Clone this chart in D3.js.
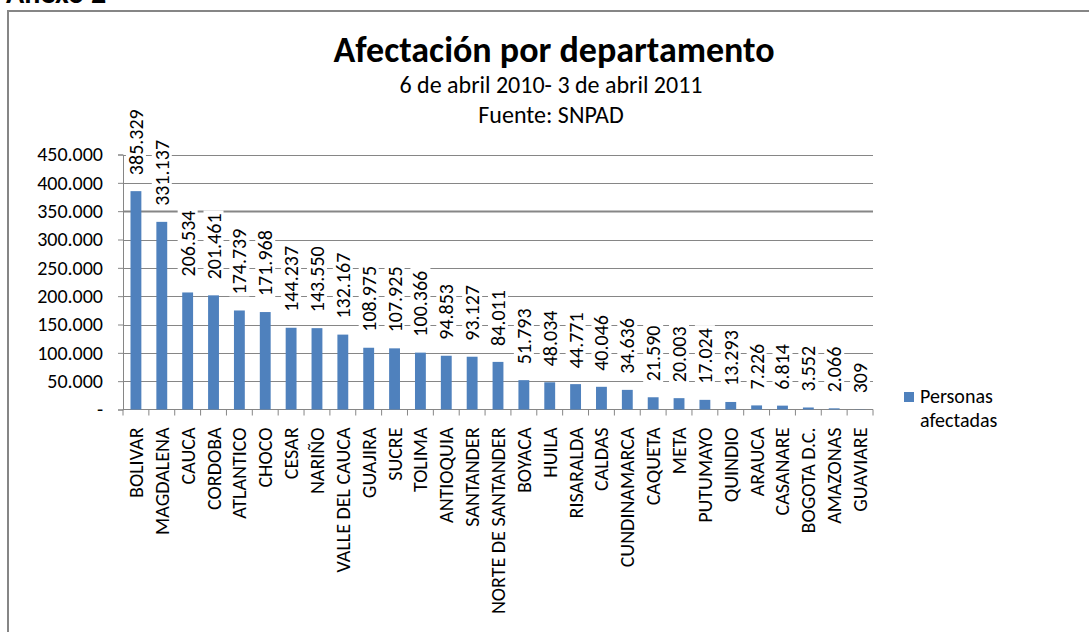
<!DOCTYPE html>
<meta charset="utf-8">
<style>
body { margin: 0; background: #fff; }
svg { display: block; font-family: Carlito, Lato, sans-serif; }
</style>
<body>
<div id="chart"></div>
<script src="https://d3js.org/d3.v7.min.js"></script>
<script>

var width = 1089,
    height = 632;

// datos: personas afectadas por departamento
var departamentos = ["BOLIVAR", "MAGDALENA", "CAUCA", "CORDOBA", "ATLANTICO", "CHOCO", "CESAR",
    "NARIÑO", "VALLE DEL CAUCA", "GUAJIRA", "SUCRE", "TOLIMA", "ANTIOQUIA", "SANTANDER",
    "NORTE DE SANTANDER", "BOYACA", "HUILA", "RISARALDA", "CALDAS", "CUNDINAMARCA", "CAQUETA",
    "META", "PUTUMAYO", "QUINDIO", "ARAUCA", "CASANARE", "BOGOTA D.C.", "AMAZONAS", "GUAVIARE"];

var afectados = [385329, 331137, 206534, 201461, 174739, 171968, 144237,
    143550, 132167, 108975, 107925, 100366, 94853, 93127,
    84011, 51793, 48034, 44771, 40046, 34636, 21590,
    20003, 17024, 13293, 7226, 6814, 3552, 2066, 309];

var yTicks = [0, 50000, 100000, 150000, 200000, 250000, 300000, 350000, 400000, 450000];

var serie = "Personas afectadas";

var locale = d3.formatLocale({decimal: ",", thousands: ".", grouping: [3], currency: ["$", ""]});
var fmt = locale.format(",d");

var svg = d3.select("#chart").append("svg")
    .attr("width", width)
    .attr("height", height);

// encabezado del anexo (cortado arriba)
svg.append("text")
    .attr("x", 6).attr("y", 3)
    .style("font-weight", "bold")
    .style("font-size", "30px")
    .text("Anexo 2");

// marco del grafico
svg.append("rect")
    .attr("x", 8).attr("y", 11)
    .attr("width", 1100).attr("height", 700)
    .attr("fill", "none")
    .attr("stroke", "#868686")
    .attr("stroke-width", 2);

var plotLeft = 123, plotRight = 873, plotTop = 154.5, plotBottom = 409.5;

var x = d3.scaleBand()
    .domain(departamentos)
    .range([plotLeft, plotRight])
    .paddingInner(0.58)
    .paddingOuter(0.29);

var xTicks = d3.scaleBand().domain(departamentos).range([plotLeft, plotRight]);

var y = d3.scaleLinear()
    .domain([0, 450000])
    .range([plotBottom, plotTop]);

// lineas de division
svg.append("g")
    .selectAll("line")
    .data(yTicks.slice(1))
    .join("line")
    .attr("x1", plotLeft).attr("x2", plotRight)
    .attr("y1", function(d) { return Math.round(y(d)) + 0.5; })
    .attr("y2", function(d) { return Math.round(y(d)) + 0.5; })
    .attr("stroke", "#868686")
    .attr("stroke-width", function(d) { return d === 350000 ? 2 : 1; });

// eje y
var yAxis = svg.append("g")
    .attr("transform", "translate(" + plotLeft + ",0)")
    .call(d3.axisLeft(y).tickValues(yTicks).tickSize(5).tickPadding(15)
        .tickFormat(function(d) { return d === 0 ? "-" : fmt(d); }));
yAxis.select(".domain").attr("stroke", "#868686");
yAxis.selectAll(".tick line").attr("stroke", "#868686");
yAxis.selectAll("text")
    .style("font-family", "Carlito, Lato, sans-serif")
    .style("font-size", "20px")
    .attr("fill", "#000");

// eje x
var xAxis = svg.append("g")
    .attr("transform", "translate(0," + plotBottom + ")");
xAxis.append("line")
    .attr("x1", plotLeft).attr("x2", plotRight)
    .attr("stroke", "#868686");
xAxis.selectAll(".sep")
    .data(departamentos.concat(["fin"]))
    .join("line")
    .attr("class", "sep")
    .attr("x1", function(d, i) { return i < departamentos.length ? xTicks(d) : plotRight; })
    .attr("x2", function(d, i) { return i < departamentos.length ? xTicks(d) : plotRight; })
    .attr("y1", 0).attr("y2", 6)
    .attr("stroke", "#868686");
xAxis.selectAll(".cat")
    .data(departamentos)
    .join("text")
    .attr("class", "cat")
    .attr("transform", function(d) {
        return "translate(" + (x(d) + x.bandwidth() / 2) + ",18) rotate(-90)";
    })
    .attr("dy", "0.35em")
    .attr("text-anchor", "end")
    .style("font-size", "20px")
    .attr("fill", "#000")
    .text(function(d) { return d; });

// barras
svg.append("g")
    .selectAll("rect")
    .data(afectados)
    .join("rect")
    .attr("x", function(d, i) { return x(departamentos[i]); })
    .attr("width", x.bandwidth())
    .attr("y", function(d) { return y(d); })
    .attr("height", function(d) { return plotBottom - y(d); })
    .attr("fill", "#4F81BD");

// etiquetas de datos con fondo blanco
var etiquetas = svg.append("g")
    .selectAll("g")
    .data(afectados)
    .join("g")
    .attr("transform", function(d, i) {
        return "translate(" + (x(departamentos[i]) + x.bandwidth() / 2) + "," + (y(d) - 16) + ")";
    });

etiquetas.append("rect").attr("class", "bg").attr("fill", "#fff");

etiquetas.append("text")
    .attr("transform", "rotate(-90)")
    .attr("dy", "0.35em")
    .style("font-size", "20px")
    .attr("fill", "#000")
    .text(function(d) { return fmt(d); });

etiquetas.each(function() {
    var g = d3.select(this);
    var len = g.select("text").node().getComputedTextLength();
    g.select("rect.bg")
        .attr("x", -10).attr("width", 20)
        .attr("y", -len - 3).attr("height", len + 5);
});

// titulos
svg.append("text")
    .attr("x", 554).attr("y", 62)
    .attr("text-anchor", "middle")
    .style("font-weight", "bold")
    .style("font-size", "36px")
    .text("Afectación por departamento");

svg.append("text")
    .attr("x", 551).attr("y", 93)
    .attr("text-anchor", "middle")
    .style("font-size", "24px")
    .text("6 de abril 2010- 3 de abril 2011");

svg.append("text")
    .attr("x", 551).attr("y", 123)
    .attr("text-anchor", "middle")
    .style("font-size", "24px")
    .text("Fuente: SNPAD");

// leyenda
var leyenda = svg.append("g").attr("transform", "translate(904,392)");
leyenda.append("rect")
    .attr("width", 10).attr("height", 10)
    .attr("fill", "#4F81BD");
leyenda.append("text")
    .attr("x", 16).attr("y", 11)
    .style("font-size", "20px")
    .text(serie.split(" ")[0]);
leyenda.append("text")
    .attr("x", 16).attr("y", 35)
    .style("font-size", "20px")
    .text(serie.split(" ")[1]);

</script>
